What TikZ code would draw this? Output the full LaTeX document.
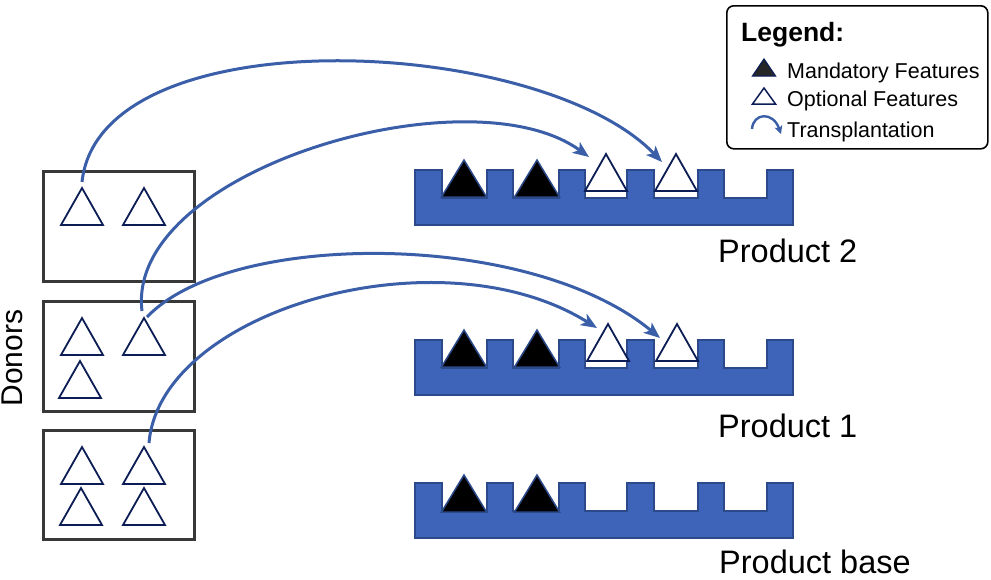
\documentclass[tikz,border=0pt]{standalone}
\usepackage{fontspec}
\setmainfont{Liberation Sans}
\usetikzlibrary{arrows.meta}
\definecolor{arcblue}{HTML}{3A5EA8}
\definecolor{combfill}{HTML}{3D64B9}
\definecolor{combedge}{HTML}{2C4A8A}
\definecolor{navy}{HTML}{0C1D55}
\definecolor{boxgray}{HTML}{383838}
\tikzset{
  transp/.style={draw=arcblue, line width=3pt, -{Stealth[length=16pt,width=13pt,inset=4pt]}},
  donorbox/.style={draw=boxgray, line width=3pt, minimum width=151pt, minimum height=110pt, anchor=north west, inner sep=0pt},
  lbl/.style={anchor=base west, inner sep=0pt, font=\fontsize{32.5}{32.5}\selectfont},
  legtxt/.style={anchor=base west, inner sep=0pt, font=\fontsize{21.5}{21.5}\selectfont},
  opttri/.pic={\draw[navy, line width=1.8pt, fill=white, line join=miter] (0,0) -- (21,37) -- (-21,37) -- cycle;},
  mandtri/.pic={\filldraw[draw=combedge, fill=black, line width=1.5pt] (0,0) -- (22.5,37) -- (-22.5,37) -- cycle;},
  comb/.pic={\filldraw[fill=combfill, draw=combedge, line width=1.5pt]
    (0,0) -- (27,0) -- (27,28) -- (72,28) -- (72,0) -- (98,0) -- (98,28) -- (144,28) -- (144,0)
    -- (170,0) -- (170,28) -- (212,28) -- (212,0) -- (239,0) -- (239,28) -- (283,28) -- (283,0)
    -- (309,0) -- (309,28) -- (352,28) -- (352,0) -- (378,0) -- (378,55) -- (0,55) -- cycle;},
}
\begin{document}
\begin{tikzpicture}[x=1pt,y=-1pt]
\useasboundingbox (0,0) rectangle (991,579);

% products
\pic at (415,170) {comb};
\pic at (415,340) {comb};
\pic at (415,483) {comb};

\pic at (464,160) {mandtri};
\pic at (537,160) {mandtri};
\pic at (464,330) {mandtri};
\pic at (537,330) {mandtri};
\pic at (464,475) {mandtri};
\pic at (537,475) {mandtri};

\coordinate (p2a) at (606,154);
\coordinate (p2b) at (676,154);
\coordinate (p1a) at (608,324);
\coordinate (p1b) at (677,324);
\pic at (p2a) {opttri};
\pic at (p2b) {opttri};
\pic at (p1a) {opttri};
\pic at (p1b) {opttri};

\node[lbl] (l2) at (718,262) {Product 2};
\node[lbl] (l1) at (718,437) {Product 1};
\node[lbl] (lb) at (719,573) {Product base};

% donors
\node[donorbox] (box1) at (42,170) {};
\node[donorbox] (box2) at (42,300) {};
\node[donorbox, minimum height=109pt] (box3) at (42,429) {};
\node[anchor=base, inner sep=0pt, rotate=90, font=\fontsize{30}{30}\selectfont] (donors) at (23,358) {Donors};

\coordinate (d1a) at (82,188);
\coordinate (d1b) at (144,188);
\coordinate (d2a) at (82,318);
\coordinate (d2b) at (144,318);
\coordinate (d2c) at (80,361);
\coordinate (d3a) at (82,447);
\coordinate (d3b) at (144,447);
\coordinate (d3c) at (81,488);
\coordinate (d3d) at (144,488);
\foreach \t in {d1a,d1b,d2a,d2b,d2c,d3a,d3b,d3c,d3d} {\pic at (\t) {opttri};}

% transplantation arcs
\coordinate (s1) at (82,182);
\coordinate (s2) at (142,311);
\coordinate (s3) at (147,317);
\coordinate (s4) at (149,443);
\coordinate (e1) at (662,162);
\coordinate (e2) at (589,157);
\coordinate (e3) at (660,338);
\coordinate (e4) at (597,328);
\draw[transp] (s1) .. controls (100,15) and (540,35) .. (e1);
\draw[transp] (s2) .. controls (125,170) and (470,70) .. (e2);
\draw[transp] (s3) .. controls (230,230) and (530,230) .. (e3);
\draw[transp] (s4) .. controls (160,310) and (440,230) .. (e4);

% legend
\node[draw, rounded corners=7pt, line width=1.6pt, minimum width=261pt, minimum height=143pt, anchor=north west, inner sep=0pt] (legend) at (726,5) {};
\node[anchor=base west, inner sep=0pt, font=\bfseries\fontsize{26.5}{26.5}\selectfont] (legtitle) at (741,41) {Legend:};
\filldraw[draw=navy, fill=black!85, line width=1.2pt] (764,59) -- (775.5,76) -- (752.5,76) -- cycle;
\draw[navy, line width=1.5pt] (764,88) -- (775.5,104) -- (752.5,104) -- cycle;
\coordinate (ia) at (752,129);
\coordinate (ib) at (781,134);
\draw[draw=arcblue, line width=2.4pt, -{Stealth[length=8pt,width=8pt,inset=2pt]}] (ia) .. controls (753,113) and (773,111) .. (ib);
\node[legtxt] (lm) at (787,78) {Mandatory Features};
\node[legtxt] (lo) at (787,106) {Optional Features};
\node[legtxt] (lt) at (787,137) {Transplantation};
\end{tikzpicture}
\end{document}
